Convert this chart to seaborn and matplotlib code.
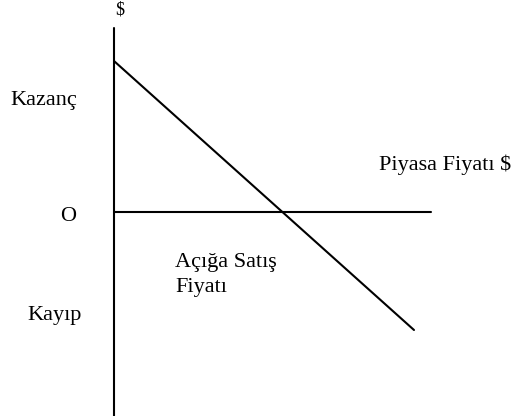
import matplotlib
matplotlib.use("Agg")
import matplotlib.pyplot as plt
import seaborn as sns

# short-sale payoff diagram (units: diagram units, origin at "O")
price_axis = [0, 317]           # horizontal axis (market price)
payoff_axis = [-204, 184]       # vertical axis ($)
line_price = [0, 300]           # payoff line: price values
line_payoff = [151, -118]       # payoff line: profit / loss

labels = {
    "Kazanç": (-104, 107, "left"),
    "O": (-54, -9, "left"),
    "Kayıp": (-87, -108, "left"),
    "Açığa Satış": (61, -55, "left"),
    "Fiyatı": (61, -80, "left"),
    "Piyasa Fiyatı $": (397, 42, "right"),
}

sns.set_style("white")
plt.rcParams["font.family"] = ["Liberation Serif", "DejaVu Serif"]

fig = plt.figure(figsize=(5.15, 4.16), dpi=100)
ax = fig.add_axes([0, 0, 1, 1])

sns.lineplot(x=price_axis, y=[0, 0], color="black", linewidth=1.5,
             estimator=None, sort=False, ax=ax)
sns.lineplot(x=[0, 0], y=payoff_axis, color="black", linewidth=1.5,
             estimator=None, sort=False, ax=ax)
sns.lineplot(x=line_price, y=line_payoff, color="black", linewidth=1.5,
             estimator=None, sort=False, ax=ax)

for txt, (x, y, ha) in labels.items():
    ax.text(x, y, txt, ha=ha, va="baseline", fontsize=16, color="black")
# axis label "$", partly cut off by the top edge
ax.text(6, 198, "$", ha="center", va="baseline", fontsize=13, color="black")

ax.set_xlim(-114, 401)
ax.set_ylim(-204, 212)
ax.axis("off")

fig.savefig("out.png", dpi=100)
